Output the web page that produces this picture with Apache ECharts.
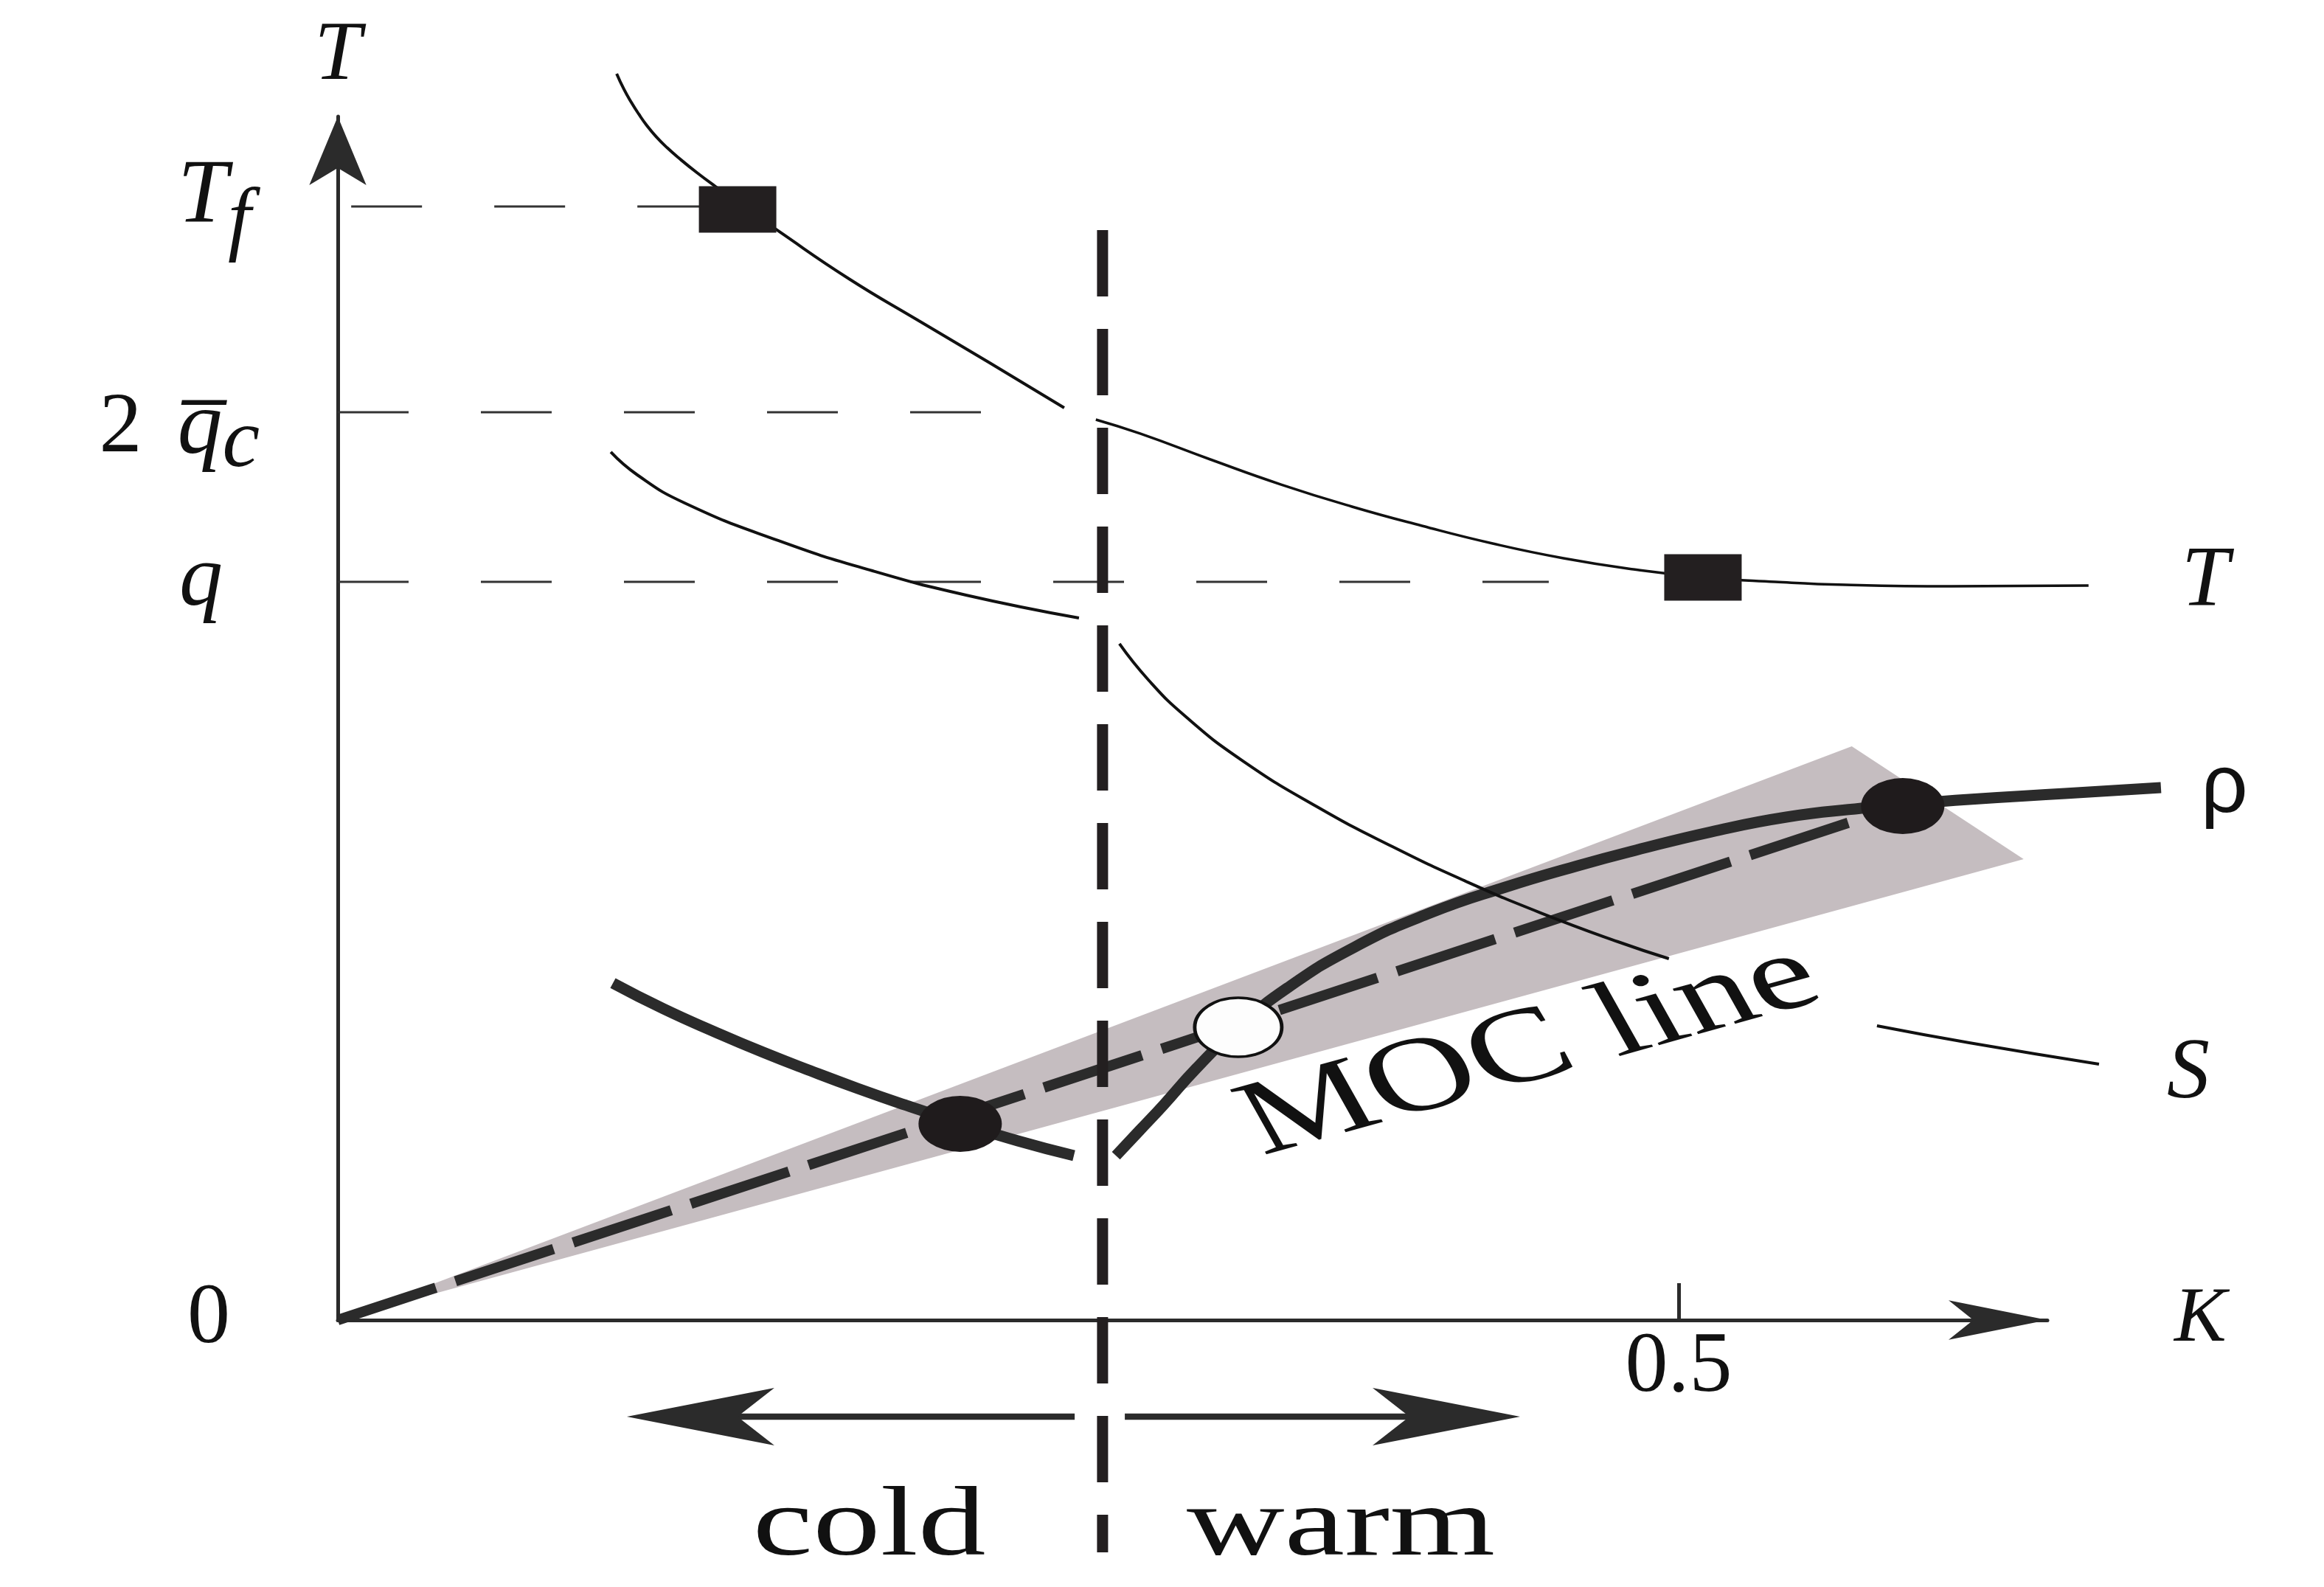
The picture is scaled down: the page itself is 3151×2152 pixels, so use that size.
<!DOCTYPE html>
<html>
<head>
<meta charset="utf-8">
<script src="https://cdn.jsdelivr.net/npm/echarts@6/dist/echarts.min.js"></script>
<style>html,body{margin:0;padding:0;background:#fff}#chart{width:3151px;height:2152px}</style>
</head>
<body>
<div id="chart"></div>
<script>
// ---------- data (K on x, dimensionless level on y) ----------
const xTickValues = [0.5];
const yTickValues = [0, 0.9967, 1.2257, 1.5035];
const yTickNames  = ['0', 'q', '2qc', 'Tf'];

const tCold = [[0.1040,1.6828],[0.1067,1.6619],[0.1095,1.6439],[0.1122,1.6285],[0.1152,1.6131],
  [0.1188,1.5975],[0.1229,1.5826],[0.1276,1.5677],[0.1339,1.5493],[0.1408,1.5306],[0.1491,1.5091],
  [0.1642,1.4707],[0.1906,1.4060],[0.2167,1.3492],[0.2431,1.2924],[0.2709,1.2317]];
const tWarm = [[0.2827,1.2158],[0.2992,1.1969],[0.3254,1.1620],[0.3518,1.1281],[0.3782,1.0983],
  [0.4043,1.0724],[0.4307,1.0485],[0.4571,1.0286],[0.4832,1.0136],[0.5096,1.0027],
  [0.5360,0.9967],[0.5622,0.9927],[0.6018,0.9907],[0.6529,0.9917]];

const sCold = [[0.1018,1.1720],[0.1117,1.1411],[0.1293,1.1033],[0.1642,1.0525],[0.1994,1.0116],
  [0.2343,0.9788],[0.2764,0.9479]];
const sWarm = [[0.2915,0.9131],[0.3023,0.8643],[0.3163,0.8145],[0.3372,0.7557],[0.3652,0.6930],
  [0.3933,0.6392],[0.4213,0.5914],[0.4494,0.5486],[0.4774,0.5108],[0.4964,0.4879]];
const sFar = [[0.5740,0.3973],[0.6084,0.3744],[0.6568,0.3455]];

const rhoCold = [[0.1026,0.4550],[0.1215,0.4202],[0.1411,0.3883],[0.1587,0.3614],[0.1763,0.3365],
  [0.1939,0.3127],[0.2112,0.2908],[0.2321,0.2659],[0.2536,0.2420],[0.2745,0.2220]];
const rhoWarm = [[0.2902,0.2220],[0.2990,0.2559],[0.3078,0.2898],[0.3201,0.3395],[0.3358,0.3953],
  [0.3540,0.4481],[0.3793,0.5038],[0.4073,0.5496],[0.4354,0.5845],[0.4634,0.6144],
  [0.4840,0.6343],[0.5121,0.6591],[0.5402,0.6791],[0.5682,0.6910],[0.5831,0.6960],
  [0.6084,0.7030],[0.6441,0.7109],[0.6799,0.7189]];

const mocLine  = [[0,0],[0.5831,0.6950]];
const mocWedge = [[0,0],[0.5646,0.7747],[0.6287,0.6223]];

const squares       = [[0.1491,1.4996],[0.5091,1.0027]];
const filledCircles = [[0.2321,0.2649],[0.5836,0.6940]];
const openCircles   = [[0.3358,0.3953]];

const refTf = [[0.005,1.5035],[0.1348,1.5035]];
const refQc = [[0,1.2257],[0.2401,1.2257]];
const refQ  = [[0,0.9967],[0.4516,0.9967]];

const boundary = [[0.2852,1.4717],[0.2852,-0.3137]];

const regimeArrows = [[0.2748,-0.1304,0.1078,-0.1304],[0.2935,-0.1304,0.4409,-0.1304]];
const regimeNames  = ['cold','warm'];
const mocLabelAnchor = [0.4447,0.3634];

// ---------- styling ----------
const SERIF = "'Liberation Serif','Times New Roman',serif";
const INK = '#111';
const DARK = '#2b2b2b';
const X_MAX = 0.6375, Y_MAX = 1.625;
const X_MAX_WIDE = 0.70;   // identical scale, wider plotting window for curves running past the K arrow

function lineSeries(data, color, width, extra) {
  return Object.assign({
    type: 'line', xAxisIndex: 1, yAxisIndex: 1, data: data, symbol: 'none', smooth: 0.5,
    clip: false, silent: true,
    lineStyle: { color: color, width: width }
  }, extra || {});
}

const chart = echarts.init(document.getElementById('chart'), null, { renderer: 'canvas' });

const hiddenAxis = { show: false, splitLine: { show: false } };

const option = {
  backgroundColor: '#fff',
  animation: false,
  grid: [
    { left: 458, right: 375, top: 158, bottom: 362, containLabel: false, outerBoundsMode: 'none' },
    { left: 458, right: 3151 - 458 - Math.round(X_MAX_WIDE * (3151 - 458 - 375) / X_MAX), top: 158, bottom: 362, containLabel: false, outerBoundsMode: 'none' }
  ],
  xAxis: [{
    type: 'value', gridIndex: 0, min: 0, max: X_MAX,
    name: 'K', nameLocation: 'end', nameGap: 172,
    nameTextStyle: { fontFamily: SERIF, fontStyle: 'italic', fontSize: 106, color: INK, verticalAlign: 'middle' },
    axisLine: { lineStyle: { color: DARK, width: 5 }, symbol: ['none', 'arrow'], symbolSize: [40, 134], symbolOffset: [0, 0] },
    axisTick: { show: true, customValues: xTickValues, inside: true, length: 50, lineStyle: { color: DARK, width: 5 } },
    axisLabel: { customValues: xTickValues, margin: 8, fontFamily: SERIF, fontSize: 116, color: INK, formatter: v => String(v) },
    splitLine: { show: false }
  }, Object.assign({ type: 'value', gridIndex: 1, min: 0, max: X_MAX_WIDE }, hiddenAxis)],
  yAxis: [{
    type: 'value', gridIndex: 0, min: 0, max: Y_MAX,
    name: 'T', nameLocation: 'end', nameGap: 24,
    nameTextStyle: { fontFamily: SERIF, fontStyle: 'italic', fontSize: 114, color: INK, align: 'center' },
    axisLine: { lineStyle: { color: DARK, width: 5 }, symbol: ['none', 'arrow'], symbolSize: [58, 93], symbolOffset: [0, 0] },
    axisTick: { show: false },
    splitLine: { show: false },
    axisLabel: {
      customValues: yTickValues, margin: 106, align: 'right', color: INK,
      formatter: function (v) {
        let best = 0;
        yTickValues.forEach((t, i) => { if (Math.abs(t - v) < Math.abs(yTickValues[best] - v)) best = i; });
        const n = yTickNames[best];
        if (n === '0') return '{zero|0}';
        if (n === 'q') return '{qq|q}';
        if (n === '2qc') return '{two|2}{qbar|q\u0305}{subc|c}';
        return '{bigT|T}{subf|f}';
      },
      rich: {
        zero: { fontFamily: SERIF, fontSize: 116, color: INK, padding: [0, 40, 0, 0] },
        qq:   { fontFamily: SERIF, fontStyle: 'italic', fontSize: 118, color: INK, padding: [0, 50, 0, 0] },
        two:  { fontFamily: SERIF, fontSize: 116, color: INK, padding: [46, 48, 0, 0] },
        qbar: { fontFamily: SERIF, fontStyle: 'italic', fontSize: 122, color: INK, padding: [46, 0, 0, 0] },
        subc: { fontFamily: SERIF, fontStyle: 'italic', fontSize: 114, color: INK, padding: [86, 0, 0, 0] },
        bigT: { fontFamily: SERIF, fontStyle: 'italic', fontSize: 122, color: INK, padding: [0, 0, 24, 0] },
        subf: { fontFamily: SERIF, fontStyle: 'italic', fontSize: 112, color: INK, padding: [46, 12, 0, 0] }
      }
    }
  }, Object.assign({ type: 'value', gridIndex: 1, min: 0, max: Y_MAX }, hiddenAxis)],
  series: [
    // grey wedge around the MOC line, with its label
    {
      type: 'custom', name: 'wedge', xAxisIndex: 1, yAxisIndex: 1, coordinateSystem: 'cartesian2d', clip: false, silent: true, z: 1,
      data: [mocWedge[0]],
      renderItem: function (params, api) {
        const pts = mocWedge.map(p => api.coord(p));
        const a = api.coord(mocLabelAnchor);
        return {
          type: 'group', children: [
            { type: 'polygon', shape: { points: pts }, style: { fill: '#c5bdc0' } },
            { type: 'group', x: a[0], y: a[1], scaleX: 1.42, scaleY: 1, children: [
              { type: 'text', rotation: 0.3760, style: { text: 'MOC line', fontFamily: SERIF, fontSize: 144, fill: INK, align: 'center', verticalAlign: 'middle' } }
            ] }
          ]
        };
      }
    },
    // dashed reference levels
    lineSeries(refTf, '#333', 3, { smooth: false, z: 2, lineStyle: { color: '#333', width: 3, type: [96, 98] } }),
    lineSeries(refQc, '#333', 3, { smooth: false, z: 2, lineStyle: { color: '#333', width: 3, type: [96, 98] } }),
    lineSeries(refQ,  '#333', 3, { smooth: false, z: 2, lineStyle: { color: '#333', width: 3, type: [96, 98] } }),
    // MOC line
    lineSeries(mocLine, DARK, 14, { smooth: false, z: 3, lineStyle: { color: DARK, width: 14, type: [140, 28] } }),
    // rho
    lineSeries(rhoCold, DARK, 15, { z: 4 }),
    lineSeries(rhoWarm, DARK, 15, { z: 4, endLabel: { show: true, formatter: 'ρ', distance: 54, offset: [0, 2], fontFamily: "'Liberation Sans',Arial,sans-serif", fontSize: 112, color: INK } }),
    // S
    lineSeries(sCold, INK, 4, { z: 5 }),
    lineSeries(sWarm, INK, 4, { z: 5 }),
    lineSeries(sFar,  INK, 4, { z: 5, endLabel: { show: true, formatter: 'S', distance: 92, offset: [0, 14], fontFamily: SERIF, fontStyle: 'italic', fontSize: 116, color: INK } }),
    // T
    lineSeries(tCold, INK, 4, { z: 5 }),
    lineSeries(tWarm, INK, 3.5, { z: 5, endLabel: { show: true, formatter: 'T', distance: 126, offset: [0, -4], fontFamily: SERIF, fontStyle: 'italic', fontSize: 116, color: INK } }),
    // cold / warm boundary
    lineSeries(boundary, '#231f20', 15, { smooth: false, z: 6, lineStyle: { color: '#231f20', width: 15, type: [90, 44] } }),
    // regime arrows with labels
    {
      type: 'custom', name: 'regimes', xAxisIndex: 1, yAxisIndex: 1, coordinateSystem: 'cartesian2d', clip: false, silent: true, z: 6,
      data: regimeArrows,
      encode: { x: [0, 2], y: [1, 3] },
      renderItem: function (params, api) {
        const p0 = api.coord([api.value(0), api.value(1)]);
        const p1 = api.coord([api.value(2), api.value(3)]);
        const dx = p1[0] - p0[0], dy = p1[1] - p0[1];
        const len = Math.hypot(dx, dy), ux = dx / len, uy = dy / len, nx = -uy, ny = ux;
        const L = 200, W = 39;
        const bx = p1[0] - ux * L, by = p1[1] - uy * L;
        const mx = bx + ux * L * 0.25, my = by + uy * L * 0.25;
        const cx = (p0[0] + p1[0]) / 2 + 25, cy = (p0[1] + p1[1]) / 2 + 152;
        return {
          type: 'group', children: [
            { type: 'line', shape: { x1: p0[0], y1: p0[1], x2: mx, y2: my }, style: { stroke: DARK, lineWidth: 8.5 } },
            { type: 'polygon', shape: { points: [p1, [bx + nx * W, by + ny * W], [mx, my], [bx - nx * W, by - ny * W]] }, style: { fill: DARK } },
            { type: 'text', x: cx, y: cy, scaleX: 1.37, style: { text: regimeNames[params.dataIndex], fontFamily: SERIF, fontSize: 134, fill: INK, align: 'center', verticalAlign: 'middle' } }
          ]
        };
      }
    },
    // markers
    { type: 'scatter', xAxisIndex: 1, yAxisIndex: 1, data: squares, symbol: 'rect', symbolSize: [105, 63], itemStyle: { color: '#231f20', opacity: 1 }, z: 8, silent: true, clip: false },
    { type: 'scatter', xAxisIndex: 1, yAxisIndex: 1, data: filledCircles, symbol: 'circle', symbolSize: [113, 76], itemStyle: { color: '#1f1b1c', opacity: 1 }, z: 8, silent: true, clip: false },
    { type: 'scatter', xAxisIndex: 1, yAxisIndex: 1, data: openCircles, symbol: 'circle', symbolSize: [118, 80], itemStyle: { color: '#fdfdfd', borderColor: '#111', borderWidth: 4, opacity: 1 }, z: 8, silent: true, clip: false }
  ]
};

chart.setOption(option);
</script>
</body>
</html>
